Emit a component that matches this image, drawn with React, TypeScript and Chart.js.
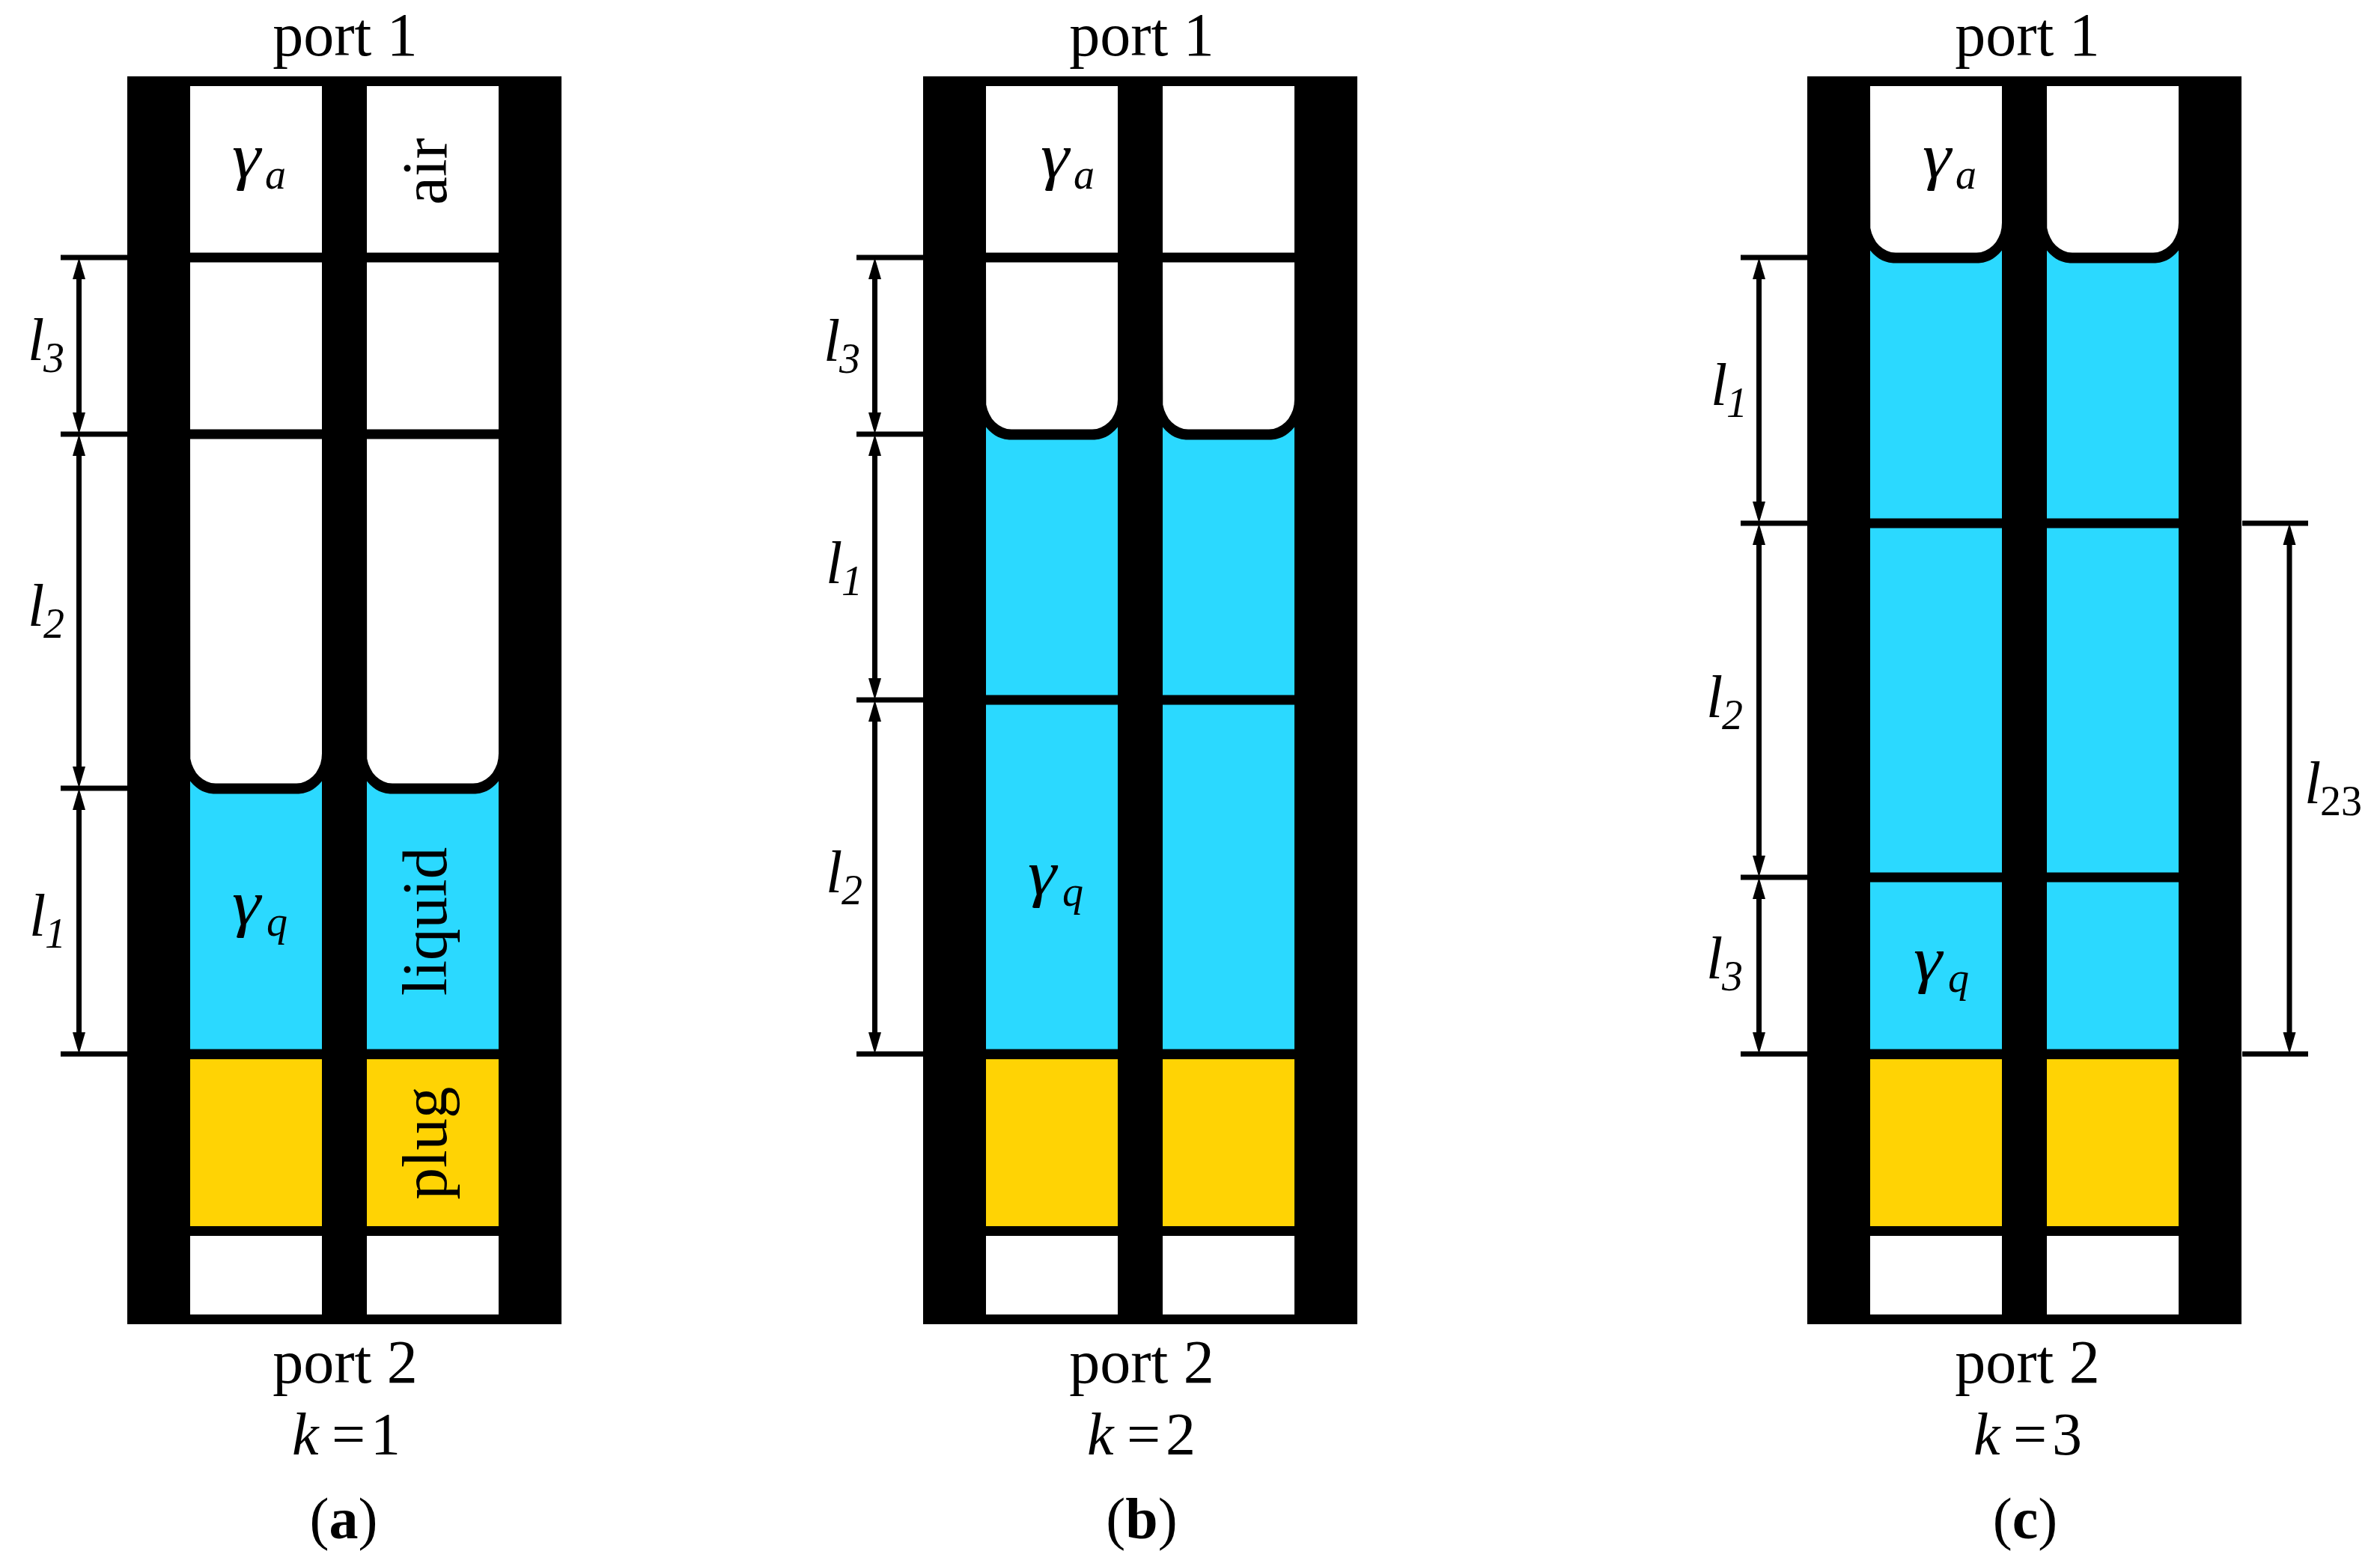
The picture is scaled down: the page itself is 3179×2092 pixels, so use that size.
import React, { useEffect, useRef } from "react";
import { Chart, registerables } from "chart.js";

Chart.register(...registerables);

const WIDTH = 3179;
const HEIGHT = 2092;
const PLUG_PIXEL = 1408; // pixel row of value 0 (liquid / plug interface)

// ---- data -------------------------------------------------------------
const panelNames = ["a", "b", "c"];
const kValues = [1, 2, 3];
const l1 = 355;
const l2 = 473;
const l3 = 236;
const stackOrders = [
  [l1, l2, l3],
  [l2, l1, l3],
  [l3, l2, l1],
];
const panelShift = [0, 1063, 2244];
const tubeEdges = [
  [254, 430],
  [490, 666],
];
const frameEdges = [170, 750];
const frameLevels = [-361, 1306];
const tubeTop = 1293;
const plugLevels = [-7, -230];
const exitLevels = [-243, -348];
const airCorner = [
  [0, 40], [0.5, 33], [2, 26], [4.6, 20], [8, 14], [12, 9.4], [17, 5.4], [22.4, 2.4], [28, 0.6], [34, 0],
];
const liquidCorner = [
  [0, 17], [4, 12.5], [8, 9], [12, 6], [16, 3.8], [20, 2.2], [25, 0.8], [31, 0],
];
const tickSpans = [81, 170];
const shaftX = 105.5;
const rightTickSpans = [2995, 3083];
const rightShaftX = 3058;

const portCentres = [461, 1525, 2708];
const kLefts = [390, 1452, 2636];
const captionCentres = [459, 1525, 2705];
const airLabelsLeft = [310, 1390, 2568];
const liquidLabelsLeft = [310, 1373, 2556];
const liquidLabelsBase = [1235, 1195, 1310];
const lengthLabels = [
  { left: 37, base: 481, sub: "3" },
  { left: 37, base: 836, sub: "2" },
  { left: 39, base: 1250, sub: "1" },
  { left: 1100, base: 482, sub: "3" },
  { left: 1103, base: 779, sub: "1" },
  { left: 1103, base: 1192, sub: "2" },
  { left: 2285, base: 541, sub: "1" },
  { left: 2279, base: 958, sub: "2" },
  { left: 2279, base: 1307, sub: "3" },
  { left: 3078, base: 1073, sub: "23" },
];
const sideWords = [
  { text: "air", centre: 229 },
  { text: "liquid", centre: 1231 },
  { text: "plug", centre: 1527 },
];

const BLUE = "#2BD9FF";
const YELLOW = "#FFD304";
const WHITE = "#FFFFFF";
const BLACK = "#000000";
const SERIF = '"Liberation Serif", serif';

type P = { x: number; y: number };

function polygon(pts: P[], color: string) {
  return {
    type: "scatter",
    data: pts,
    showLine: true,
    fill: "shape",
    backgroundColor: color,
    borderWidth: 0,
    pointRadius: 0,
    tension: 0,
  };
}
function rect(x0: number, x1: number, lo: number, hi: number, color: string) {
  return polygon(
    [
      { x: x0, y: lo },
      { x: x0, y: hi },
      { x: x1, y: hi },
      { x: x1, y: lo },
    ],
    color
  );
}
function segment(a: P, b: P, w: number) {
  return {
    type: "scatter",
    data: [a, b],
    showLine: true,
    fill: false,
    borderColor: BLACK,
    borderWidth: w,
    borderCapStyle: "butt",
    pointRadius: 0,
    tension: 0,
  };
}
function head(x: number, tip: number, dir: number) {
  return polygon(
    [
      { x: x - 8.5, y: tip + dir * 29 },
      { x, y: tip },
      { x: x + 8.5, y: tip + dir * 29 },
    ],
    BLACK
  );
}
function dimension(x: number, lo: number, hi: number) {
  return [
    segment({ x, y: lo + 15 }, { x, y: hi - 15 }, 7),
    head(x, lo, 1),
    head(x, hi, -1),
  ];
}

function buildDatasets() {
  const out: any[] = [];
  panelNames.forEach((_, p) => {
    const dx = panelShift[p];
    const order = stackOrders[p];
    const levels = [0, order[0], order[0] + order[1], order[0] + order[1] + order[2]];
    const k = kValues[p];
    out.push(rect(frameEdges[0] + dx, frameEdges[1] + dx, frameLevels[0], frameLevels[1], BLACK));
    tubeEdges.forEach(([a, b]) => {
      const x0 = a + dx;
      const x1 = b + dx;
      out.push(rect(x0, x1, plugLevels[1], plugLevels[0], YELLOW));
      out.push(rect(x0, x1, exitLevels[1], exitLevels[0], WHITE));
      for (let i = 0; i <= 3; i++) {
        const lo = levels[i];
        const hi = i === 3 ? tubeTop + 6.5 : levels[i + 1];
        const loY = lo + 6.5;
        const hiY = hi - 6.5;
        if (i < k) {
          if (i + 1 === k) {
            const flat = hi - 7.5;
            const left = liquidCorner.map(([d, r]) => ({ x: x0 + d, y: flat + r }));
            const right = liquidCorner.slice().reverse().map(([d, r]) => ({ x: x1 - d, y: flat + r }));
            out.push(polygon([{ x: x0, y: loY }, ...left, ...right, { x: x1, y: loY }], BLUE));
          } else {
            out.push(rect(x0, x1, loY, hiY, BLUE));
          }
        } else if (i === k) {
          const left = airCorner.map(([d, r]) => ({ x: x0 + d, y: loY + r }));
          const right = airCorner.slice().reverse().map(([d, r]) => ({ x: x1 - d, y: loY + r }));
          out.push(polygon([{ x: x0, y: hiY }, ...left, ...right, { x: x1, y: hiY }], WHITE));
        } else {
          out.push(rect(x0, x1, loY, hiY, WHITE));
        }
      }
    });
    levels.forEach((v) => {
      out.push(segment({ x: tickSpans[0] + dx, y: v }, { x: tickSpans[1] + dx, y: v }, 7));
    });
    for (let i = 0; i < 3; i++) {
      out.push(...dimension(shaftX + dx, levels[i], levels[i + 1]));
    }
    if (p === 2) {
      out.push(segment({ x: rightTickSpans[0], y: 0 }, { x: rightTickSpans[1], y: 0 }, 7));
      out.push(segment({ x: rightTickSpans[0], y: levels[2] }, { x: rightTickSpans[1], y: levels[2] }, 7));
      out.push(...dimension(rightShaftX, 0, levels[2]));
    }
  });
  const n = out.length;
  out.forEach((d, i) => (d.order = n - i));
  return out;
}

const textPlugin = {
  id: "diagramText",
  afterDatasetsDraw(chart: any) {
    const { ctx } = chart;
    const X = (v: number) => chart.scales.x.getPixelForValue(v);
    const Y = (row: number) => chart.scales.y.getPixelForValue(PLUG_PIXEL - row);
    const put = (s: string, x: number, y: number, font: string, align: CanvasTextAlign = "left") => {
      ctx.font = font;
      ctx.textAlign = align;
      ctx.textBaseline = "alphabetic";
      ctx.fillText(s, X(x), Y(y));
    };
    const gamma = (x: number, y: number) => {
      ctx.save();
      ctx.translate(X(x), Y(y));
      ctx.scale(1.15, 1);
      ctx.font = `italic 84px ${SERIF}`;
      ctx.textAlign = "left";
      ctx.textBaseline = "alphabetic";
      ctx.fillText("γ", 0, 0);
      ctx.restore();
    };
    ctx.save();
    ctx.fillStyle = BLACK;
    const main = `82px ${SERIF}`;
    const ital = `italic 80px ${SERIF}`;
    const sub = `italic 56px ${SERIF}`;

    panelNames.forEach((name, p) => {
      put("port 1", portCentres[p], 74, main, "center");
      put("port 2", portCentres[p], 1847, main, "center");

      // k = n
      const kx = kLefts[p];
      put("k", kx, 1943, ital);
      put("=", kx + 53, 1943, `80px ${SERIF}`);
      put(String(kValues[p]), kx + 105, 1943, `80px ${SERIF}`);

      // caption with bold letter
      const capFont = `78px ${SERIF}`;
      const capBold = `bold 78px ${SERIF}`;
      ctx.font = capFont;
      const pw = ctx.measureText("(").width;
      ctx.font = capBold;
      const lw = ctx.measureText(name).width;
      const cx = captionCentres[p] - (2 * pw + lw) / 2;
      put("(", cx, 2055, capFont);
      put(name, cx + pw, 2055, capBold);
      put(")", cx + pw + lw, 2055, capFont);

      // gamma labels
      gamma(airLabelsLeft[p], 237);
      put("a", airLabelsLeft[p] + 44, 252, sub);
      gamma(liquidLabelsLeft[p], liquidLabelsBase[p]);
      put("q", liquidLabelsLeft[p] + 46, liquidLabelsBase[p] + 15, sub);
    });

    lengthLabels.forEach((l) => {
      put("l", l.left, l.base, ital);
      put(l.sub, l.left + 21, l.base + 16, l.sub === "23" ? `56px ${SERIF}` : sub);
    });

    sideWords.forEach((w) => {
      ctx.save();
      ctx.translate(X(596), Y(w.centre));
      ctx.rotate(-Math.PI / 2);
      ctx.font = `85px ${SERIF}`;
      ctx.textAlign = "center";
      ctx.textBaseline = "alphabetic";
      ctx.fillText(w.text, 0, 0);
      ctx.restore();
    });
    ctx.restore();
  },
};

export default function App() {
  const ref = useRef<HTMLCanvasElement | null>(null);
  useEffect(() => {
    const chart = new Chart(ref.current as any, {
      type: "scatter",
      data: { datasets: buildDatasets() as any },
      options: {
        animation: false,
        responsive: false,
        devicePixelRatio: 1,
        layout: { padding: 0 },
        events: [],
        plugins: { legend: { display: false }, tooltip: { enabled: false }, title: { display: false } },
        scales: {
          x: { type: "linear", display: false, min: 0, max: WIDTH },
          y: { type: "linear", display: false, min: PLUG_PIXEL - HEIGHT, max: PLUG_PIXEL },
        },
      } as any,
      plugins: [textPlugin as any],
    });
    return () => chart.destroy();
  }, []);
  return (
    <canvas
      ref={ref}
      width={WIDTH}
      height={HEIGHT}
      style={{ position: "fixed", left: 0, top: 0, display: "block", background: "#fff" }}
    />
  );
}
